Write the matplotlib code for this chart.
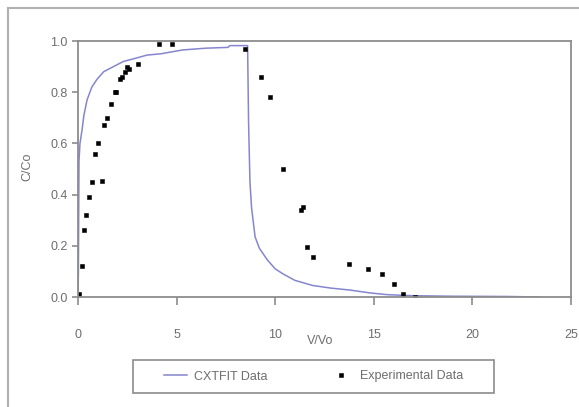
import matplotlib
matplotlib.use('Agg')
import matplotlib.pyplot as plt
from matplotlib.patches import Rectangle

# CXTFIT fitted curve (V/Vo, C/Co)
fitX = [0.0, 0.02, 0.05, 0.1, 0.2, 0.3, 0.46, 0.7, 0.96, 1.3, 1.8, 2.3, 2.8, 3.5,
        4.2, 5.3, 6.5, 7.6, 7.7, 8.6, 8.65, 8.72, 8.8, 8.98, 9.2, 9.6, 10.0, 10.4,
        11.0, 11.9, 12.8, 13.8, 14.8, 15.7, 17.0, 19.0, 21.8, 23.4]
fitY = [0.0, 0.10, 0.53, 0.60, 0.65, 0.71, 0.77, 0.82, 0.85, 0.88, 0.90, 0.92, 0.93, 0.945,
        0.95, 0.965, 0.972, 0.975, 0.982, 0.982, 0.68, 0.45, 0.35, 0.235, 0.19, 0.145, 0.11, 0.09,
        0.065, 0.045, 0.035, 0.027, 0.016, 0.009, 0.005, 0.003, 0.002, 0.0]

# experimental points
expX = [0.05, 0.2, 0.28, 0.4, 0.56, 0.71, 1.2, 0.86, 1.03, 1.32, 1.48, 1.67, 1.88, 1.95,
        2.13, 2.25, 2.4, 2.5, 2.6, 3.03, 4.1, 4.75, 8.45, 9.3, 9.75, 10.4, 11.3, 11.4,
        11.6, 11.9, 13.75, 14.7, 15.4, 16.0, 16.5, 17.1]
expY = [0.01, 0.12, 0.26, 0.32, 0.39, 0.45, 0.455, 0.56, 0.60, 0.67, 0.70, 0.755, 0.80, 0.80,
        0.85, 0.86, 0.88, 0.90, 0.89, 0.91, 0.988, 0.99, 0.97, 0.86, 0.78, 0.50, 0.34, 0.35,
        0.196, 0.155, 0.13, 0.11, 0.09, 0.05, 0.01, 0.0]

xTicks = [0, 5, 10, 15, 20, 25]
yTicks = [0.0, 0.2, 0.4, 0.6, 0.8, 1.0]

lineColor = '#8585d0'
gridGrey = '#8c8c8c'
textGrey = '#6e6e6e'
fs = 9

plt.rcParams['font.family'] = ['Liberation Sans', 'DejaVu Sans']

W, H = 579, 407
fig = plt.figure(figsize=(W/100, H/100), dpi=100)
fig.patch.set_facecolor('white')
ax = fig.add_axes([78/W, 1-297/H, (571-78)/W, (297-41)/H])

# outer chart frame (cut by the image edge at right/bottom)
fig.add_artist(Rectangle((8/W, -0.1), 1.2, 1.1-8/H, transform=fig.transFigure,
                         fill=False, edgecolor='#b0b0b0', linewidth=1.5))

lineFit, = ax.plot(fitX, fitY, '-', color=lineColor, linewidth=1.1, label='CXTFIT Data')
pts, = ax.plot(expX, expY, 's', color='black', markersize=2.6, markeredgewidth=0.4,
               linestyle='none', label='Experimental Data')

ax.set_xlim(0, 25)
ax.set_ylim(0, 1.0)
ax.set_xticks(xTicks)
ax.set_yticks(yTicks)
ax.set_yticklabels(['%.1f' % v for v in yTicks])
for s in ax.spines.values():
    s.set_color(gridGrey)
    s.set_linewidth(1.3)
ax.tick_params(axis='x', direction='out', length=6, width=1.2, color=gridGrey,
               labelsize=fs, labelcolor=textGrey, pad=17)
ax.tick_params(axis='y', direction='out', length=4.5, width=1.2, color=gridGrey,
               labelsize=fs, labelcolor=textGrey, pad=3)

ax.set_xlabel('V/Vo', fontsize=fs, color=textGrey, va='center')
ax.xaxis.set_label_coords((320-78)/493, (297-341)/256)
ax.set_ylabel('C/Co', fontsize=fs, color=textGrey, va='center')
ax.yaxis.set_label_coords((27-78)/493, (297-167)/256)

# legend box drawn separately, legend entries centred inside it
fig.add_artist(Rectangle((133/W, 1-393/H), 361/W, 33/H, transform=fig.transFigure,
                         fill=False, edgecolor=gridGrey, linewidth=1.2))
leg = fig.legend(handles=[lineFit, pts], loc='center', ncol=2,
                 bbox_to_anchor=(313.5/W, 1-376.5/H), frameon=False, fontsize=fs,
                 handlelength=1.85, handletextpad=0.56, columnspacing=5.0,
                 borderaxespad=0, borderpad=0)
for t in leg.get_texts():
    t.set_color(textGrey)

fig.savefig('out.png', dpi=100, facecolor='white')
